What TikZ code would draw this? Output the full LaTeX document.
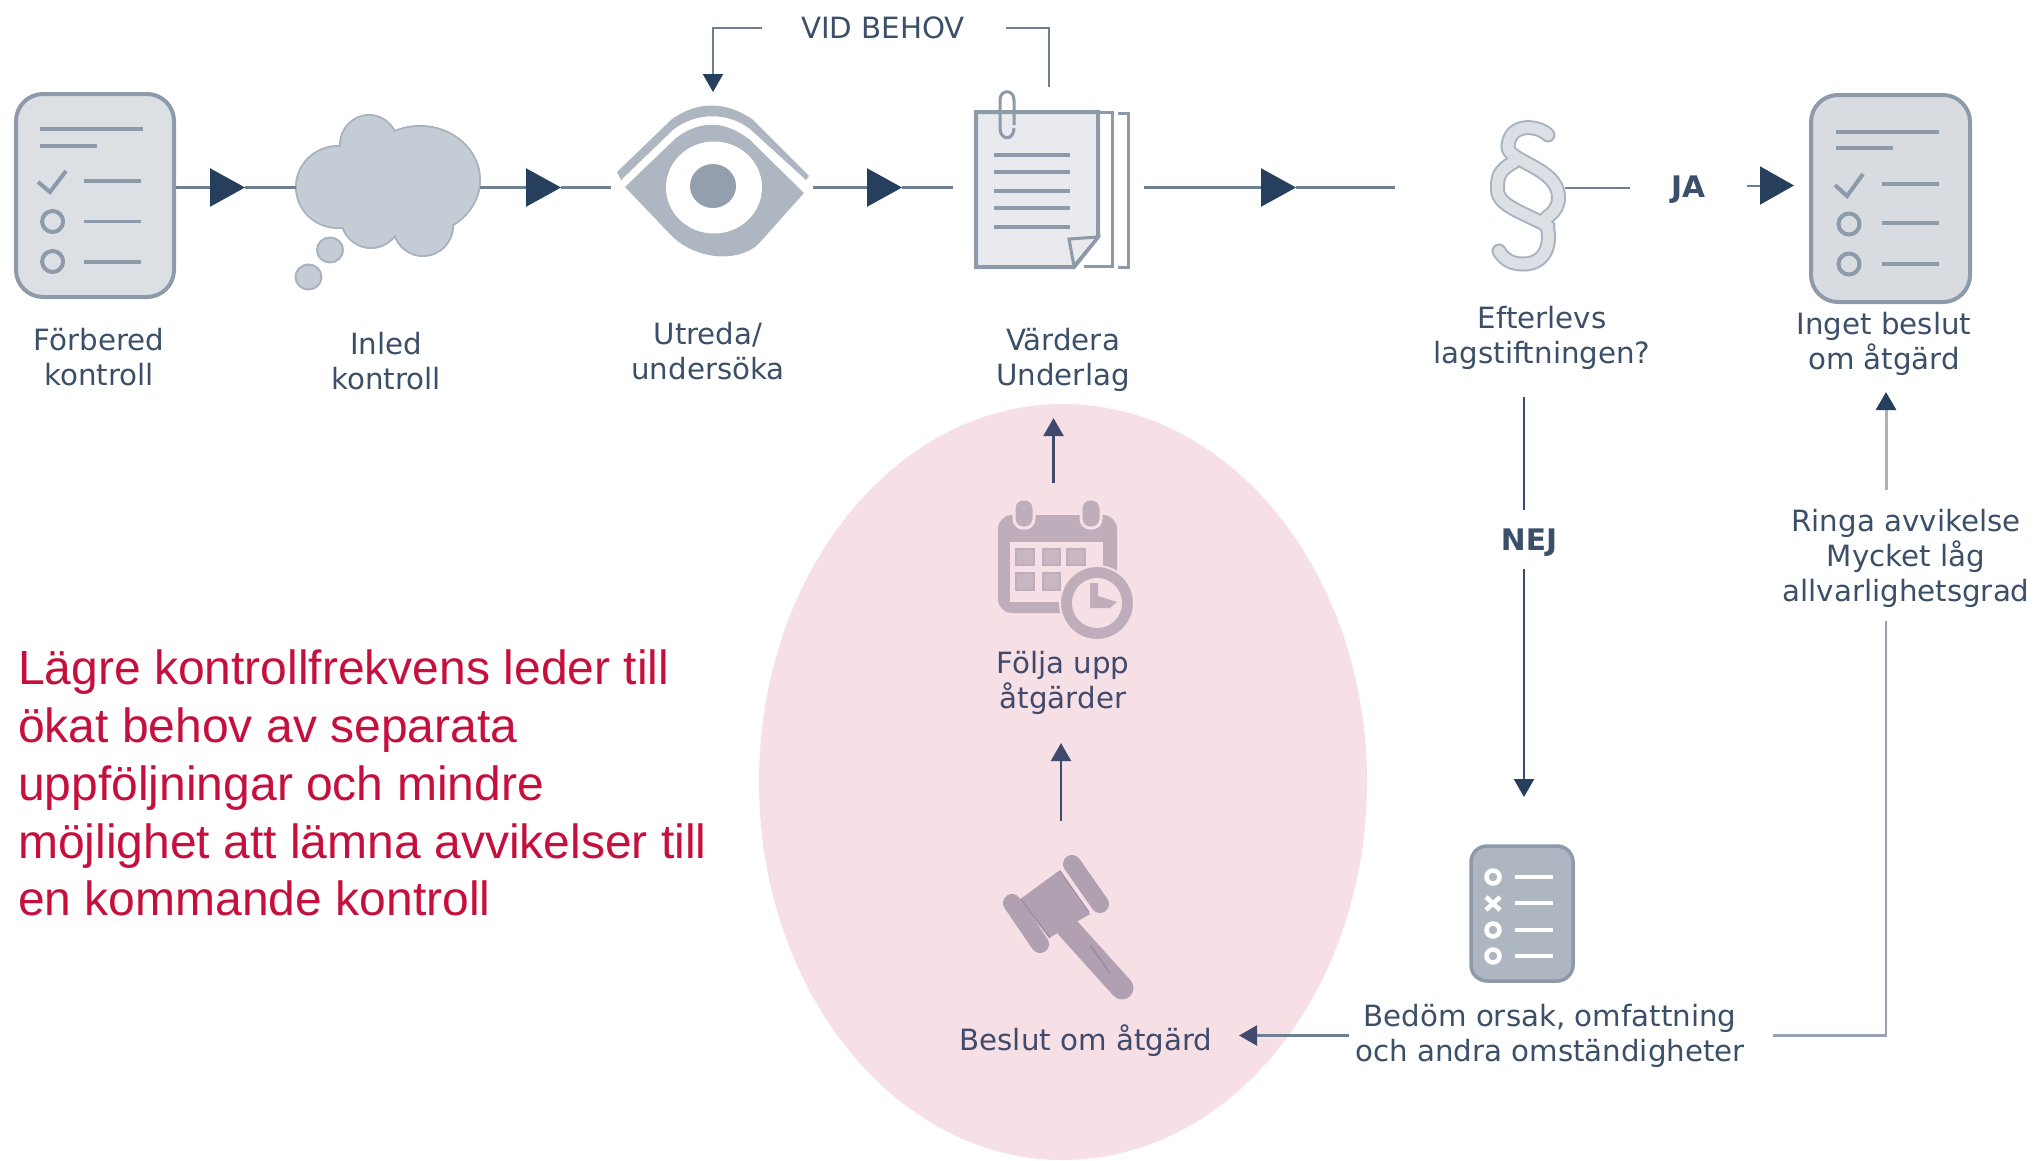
\documentclass[tikz,border=0pt]{standalone}
\usepackage{fontspec}
\setmainfont{DejaVu Sans}
\newfontfamily\redfont{Liberation Sans}
\usetikzlibrary{arrows.meta}
\definecolor{navy}{HTML}{263F5C}
\definecolor{txt}{HTML}{3B5068}
\definecolor{txtpink}{HTML}{404A6C}
\definecolor{conn}{HTML}{6E7F92}
\definecolor{iconline}{HTML}{8D9AA9}
\definecolor{paper}{HTML}{DCDFE4}
\definecolor{paperb}{HTML}{E8EAED}
\definecolor{cloudc}{HTML}{C4CCD5}
\definecolor{cloude}{HTML}{A8B3BF}
\definecolor{eyec}{HTML}{AEB6C1}
\definecolor{pupil}{HTML}{939FAC}
\definecolor{pinkbg}{HTML}{F6DFE5}
\definecolor{cal}{HTML}{BFADBB}
\definecolor{calcell}{HTML}{C9B6C3}
\definecolor{gavel}{HTML}{B0A0B2}
\definecolor{gaveld}{HTML}{9D8BA0}
\definecolor{redtxt}{HTML}{C50F3C}
\tikzset{
  lbl/.style={font=\fontsize{29.3}{35}\selectfont,text=txt,align=center,inner sep=0pt},
  lblpink/.style={lbl,text=txtpink},
  lblbold/.style={font=\fontsize{29.7}{35}\selectfont\bfseries,text=txt,inner sep=0pt},
  link/.style={draw=conn,line width=2.5pt},
  linkd/.style={draw=navy!80!conn,line width=2.2pt},
  bigtip/.style={link,-{Triangle[length=35pt,width=38pt,color=navy]}},
  smalltip/.style={linkd,-{Triangle[length=18pt,width=20pt,color=navy]}},
  pinktip/.style={draw=txtpink,line width=2.2pt,-{Triangle[length=18pt,width=20pt,color=txtpink]}},
  sheet/.style={draw=iconline,line width=4pt,fill=paper,rounded corners=27pt,inner sep=0pt},
  glyphline/.style={draw=iconline,line width=3.5pt,line cap=butt},
  docline/.style={draw=iconline,line width=3.5pt},
}
\begin{document}
\begin{tikzpicture}[x=1pt,y=-1pt]
\useasboundingbox (0,0) rectangle (2037,1160);
% pink ellipse
\fill[pinkbg] (1063,782) ellipse [x radius=304,y radius=378];

% checklist 1
\node[sheet,minimum width=158pt,minimum height=203pt] (prep) at (95,195.5) {};
\draw[glyphline,line width=4.5pt] (40,129) -- (143,129);
\draw[glyphline] (40,146) -- (97,146);
\draw[glyphline,line width=4pt] (38,182) -- (50,192) -- (66,171);
\draw[glyphline] (84,181) -- (141,181) (84,221.5) -- (141,221.5) (84,262) -- (141,262);
\draw[glyphline,line width=4pt] (52.6,221.5) circle (10.5) (52.6,261.5) circle (10.5);

% cloud
\draw[cloude,line width=2pt,fill=cloudc]
  (338,187) ellipse [x radius=42,y radius=41] (369,145) ellipse [x radius=29,y radius=30] (420,180) ellipse [x radius=60,y radius=54]
  (371,218) ellipse [x radius=30,y radius=30] (423,226) ellipse [x radius=30,y radius=30]
  (330,250) ellipse [x radius=13,y radius=12.5] (308.5,277) ellipse [x radius=13,y radius=12.5];
\fill[cloudc]
  (338,187) ellipse [x radius=41,y radius=40] (369,145) ellipse [x radius=28,y radius=29] (420,180) ellipse [x radius=59,y radius=53]
  (371,218) ellipse [x radius=29,y radius=29] (423,226) ellipse [x radius=29,y radius=29];
\coordinate (cloudW) at (296,187.5);
\coordinate (cloudE) at (480,187.5);

% eye
\fill[eyec] (625,187) -- (676,138) .. controls (700,120) and (725,120) .. (750,140) -- (804,193)
  -- (762,240) .. controls (745,263) and (695,263) .. (668,232) -- cycle;
\fill[eyec] (617,172) -- (672,119) .. controls (698,101) and (725,101) .. (752,119) -- (809,176)
  -- (806,180) -- (750,129) .. controls (728,112) and (697,112) .. (674,129) -- (621,180) -- cycle;
\fill[white] (714,187.5) ellipse [x radius=48,y radius=46];
\fill[pupil] (713,186) ellipse [x radius=23,y radius=22];
\coordinate (eyeW) at (611,187.5);
\coordinate (eyeE) at (813,187.5);
\coordinate (eyeT) at (713,92);

% document stack
\draw[iconline,line width=3pt] (1084,266) -- (1112,266) -- (1112,112) -- (1097,112);
\draw[iconline,line width=3pt] (1118,113) -- (1128,113) -- (1128,267) -- (1118,267);
\filldraw[draw=iconline,fill=paperb,line width=4pt] (976,112) -- (1098,112) -- (1098,237) -- (1074,267) -- (976,267) -- cycle;
\draw[iconline,line width=3pt,fill=paperb] (1098,237) -- (1069,239) -- (1074,266) -- cycle;
\draw[iconline,line width=3pt] (1014,125) -- (1014,100) .. controls (1014,89) and (1000,89) .. (1000,100) -- (1000,128) .. controls (1000,141) and (1014,141) .. (1014,128);
\draw[docline] (994,155) -- (1070,155) (994,172) -- (1070,172) (994,191) -- (1070,191) (994,208) -- (1070,208) (994,227) -- (1070,227);
\coordinate (docW) at (953,187.5);
\coordinate (docE) at (1144,187.5);
\coordinate (docT) at (1049,87);

% paragraph sign
\draw[cloude,line width=15pt,line cap=round] (1548,135) .. controls (1540,126) and (1510,121) .. (1508,146) .. controls (1506.5,162) and (1558.5,167) .. (1558.5,197.5) .. controls (1558.5,213.6) and (1544,217) .. (1544,221) .. controls (1552,231) and (1552,265) .. (1522,264) .. controls (1508,264) and (1502,256) .. (1499,251);
\draw[cloude,line width=15pt,line cap=round] (1514,162) .. controls (1497.5,171) and (1497.5,178) .. (1497.5,190) .. controls (1497.5,206) and (1526,213.6) .. (1548,226);
\draw[paper,line width=11pt,line cap=round] (1548,135) .. controls (1540,126) and (1510,121) .. (1508,146) .. controls (1506.5,162) and (1558.5,167) .. (1558.5,197.5) .. controls (1558.5,213.6) and (1544,217) .. (1544,221) .. controls (1552,231) and (1552,265) .. (1522,264) .. controls (1508,264) and (1502,256) .. (1499,251);
\draw[paper,line width=11pt,line cap=round] (1514,162) .. controls (1497.5,171) and (1497.5,178) .. (1497.5,190) .. controls (1497.5,206) and (1526,213.6) .. (1548,226);
\coordinate (paraE) at (1565,187.5);
\coordinate (paraS) at (1524,397);

% checklist 2
\node[sheet,minimum width=159pt,minimum height=207pt,fill=paper!95!iconline] (done) at (1890.5,198.5) {};
\draw[glyphline,line width=4.5pt] (1836,132) -- (1939,132);
\draw[glyphline] (1836,148) -- (1893,148);
\draw[glyphline,line width=4pt] (1835,185) -- (1847,196) -- (1863,174);
\draw[glyphline] (1882,184) -- (1939,184) (1882,223) -- (1939,223) (1882,264) -- (1939,264);
\draw[glyphline,line width=4pt] (1849,224) circle (10.5) (1849,264) circle (10.5);
\coordinate (doneW) at (1794,185.5);
\coordinate (doneS) at (1886,392);

% checklist 3
\node[draw=iconline,line width=3.5pt,fill=eyec,rounded corners=16pt,minimum width=102pt,minimum height=135pt,inner sep=0pt] (assess) at (1522,913.5) {};
\draw[white,line width=4.5pt] (1493,877) circle (6.5) (1493,930) circle (6.5) (1493,956) circle (6.5);
\draw[white,line width=4.5pt] (1486,897) -- (1500,910) (1500,897) -- (1486,910);
\draw[white,line width=4pt] (1515,877) -- (1553,877) (1515,903) -- (1553,903) (1515,930) -- (1553,930) (1515,956) -- (1553,956);

% calendar
\fill[cal,rounded corners=14pt] (998,515) rectangle (1117,613);
\fill[pinkbg] (1010,542) rectangle (1103,602);
\fill[calcell] (1016,549) rectangle (1034,565) (1043,549) rectangle (1060,565) (1067,549) rectangle (1085,565)
  (1016,573) rectangle (1034,590) (1043,573) rectangle (1060,590);
\draw[cal,line width=1.5pt] (1016,549) rectangle (1034,565) (1043,549) rectangle (1060,565) (1067,549) rectangle (1085,565)
  (1016,573) rectangle (1034,590) (1043,573) rectangle (1060,590);
\draw[pinkbg,line width=3pt,fill=cal,rounded corners=9pt] (1014,499) rectangle (1034,528);
\draw[pinkbg,line width=3pt,fill=cal,rounded corners=9pt] (1081,499) rectangle (1101,528);
\draw[pinkbg,line width=2pt,fill=cal] (1097,603) circle (37);
\fill[pinkbg] (1097,603) circle (25);
\fill[cal] (1090,583) -- (1098,583) -- (1098,596) -- (1117,602) -- (1110,608) -- (1090,608) -- cycle;

% gavel
\draw[gavel,line width=23pt,line cap=round] (1067,927) -- (1122,988);
\fill[gavel] (1019,900) -- (1060,870) -- (1090,914) -- (1049,938) -- cycle;
\draw[gavel,line width=18pt,line cap=round] (1012,903) -- (1040,944);
\draw[gavel,line width=18pt,line cap=round] (1072,864) -- (1100,904);
\draw[gaveld,line width=1.5pt] (1090,945) -- (1110,973);
\draw[gaveld,line width=1pt] (1021,899) -- (1050,938) (1060,871) -- (1089,912);

% labels
\node[lbl] (l1) at (99,357) {Förbered\\kontroll};
\node[lbl] (l2) at (386,361.5) {Inled\\kontroll};
\node[lbl] (l3) at (708,351) {Utreda/\\undersöka};
\node[lbl] (l4) at (1063,360) {Värdera\\Underlag};
\node[lbl] (l5) at (1542,338) {Efterlevs\\lagstiftningen?};
\node[lbl] (l6) at (1884,343.5) {Inget beslut\\om åtgärd};
\node[lbl] (vb) at (883,28) {VID BEHOV};
\node[lblbold] (ja) at (1688,190) {JA};
\node[lblbold] (nej) at (1529,542.5) {NEJ};
\node[lbl] (ringa) at (1906,558.5) {Ringa avvikelse\\Mycket låg\\allvarlighetsgrad};
\node[lbl] (bedom) at (1550,1036) {Bedöm orsak, omfattning\\och andra omständigheter};
\node[lblpink] (beslut) at (1086,1041) {Beslut om åtgärd};
\node[lblpink] (folja) at (1063,683) {Följa upp\\åtgärder};
\node[anchor=north west,inner sep=0pt,align=left,text=redtxt,font=\redfont\fontsize{48}{57.7}\selectfont] (red) at (18,650)
 {Lägre kontrollfrekvens leder till\\ökat behov av separata\\uppföljningar och mindre\\möjlighet att lämna avvikelser till\\en kommande kontroll};

% free ends
\coordinate (t1) at (245,187.5);
\coordinate (t2) at (561,187.5);
\coordinate (t3) at (902,187.5);
\coordinate (t4) at (1296,187.5);
\coordinate (c1) at (1395,187.5);
\coordinate (vbL) at (762,28);
\coordinate (vbC1) at (713,28);
\coordinate (vbR) at (1006,28);
\coordinate (vbC2) at (1049,28);
\coordinate (jaL) at (1630,187.5);
\coordinate (jaR) at (1747,185.5);
\coordinate (nejT) at (1524,510);
\coordinate (nejB) at (1524,569);
\coordinate (assessT) at (1524,797);
\coordinate (rBot) at (1886,621);
\coordinate (rTop) at (1886,490);
\coordinate (rCor) at (1886,1035.5);
\coordinate (bR) at (1773,1035.5);
\coordinate (bL) at (1349,1035.5);
\coordinate (bTip) at (1239,1035.5);
\coordinate (uB1) at (1061,821);
\coordinate (uT1) at (1061,743);
\coordinate (uB2) at (1053.5,483);
\coordinate (uT2) at (1053.5,418);

% connectors
\draw[bigtip] (prep.east |- t1) -- (t1);
\draw[link] (t1) -- (cloudW);
\draw[bigtip] (cloudE) -- (t2);
\draw[link] (t2) -- (eyeW);
\draw[bigtip] (eyeE) -- (t3);
\draw[link] (t3) -- (docW);
\draw[bigtip] (docE) -- (t4);
\draw[link] (t4) -- (c1);
\draw[smalltip,draw=conn] (vbL) -- (vbC1) -- (eyeT);
\draw[link] (vbR) -- (vbC2) -- (docT);
\draw[link,line width=2pt] (paraE) -- (jaL);
\draw[bigtip,-{Triangle[length=34pt,width=38pt,color=navy]},line width=2pt] (jaR) -- (doneW);
\draw[linkd] (paraS) -- (nejT);
\draw[smalltip] (nejB) -- (assessT);
\draw[smalltip,draw=cloude,line width=3pt] (rTop) -- (doneS);
\draw[link,draw=cloude!70!conn] (bR) -- (rCor) -- (rBot);
\draw[pinktip,draw=conn] (bL) -- (bTip);
\draw[pinktip] (uB1) -- (uT1);
\draw[pinktip] (uB2) -- (uT2);
\end{tikzpicture}
\end{document}
